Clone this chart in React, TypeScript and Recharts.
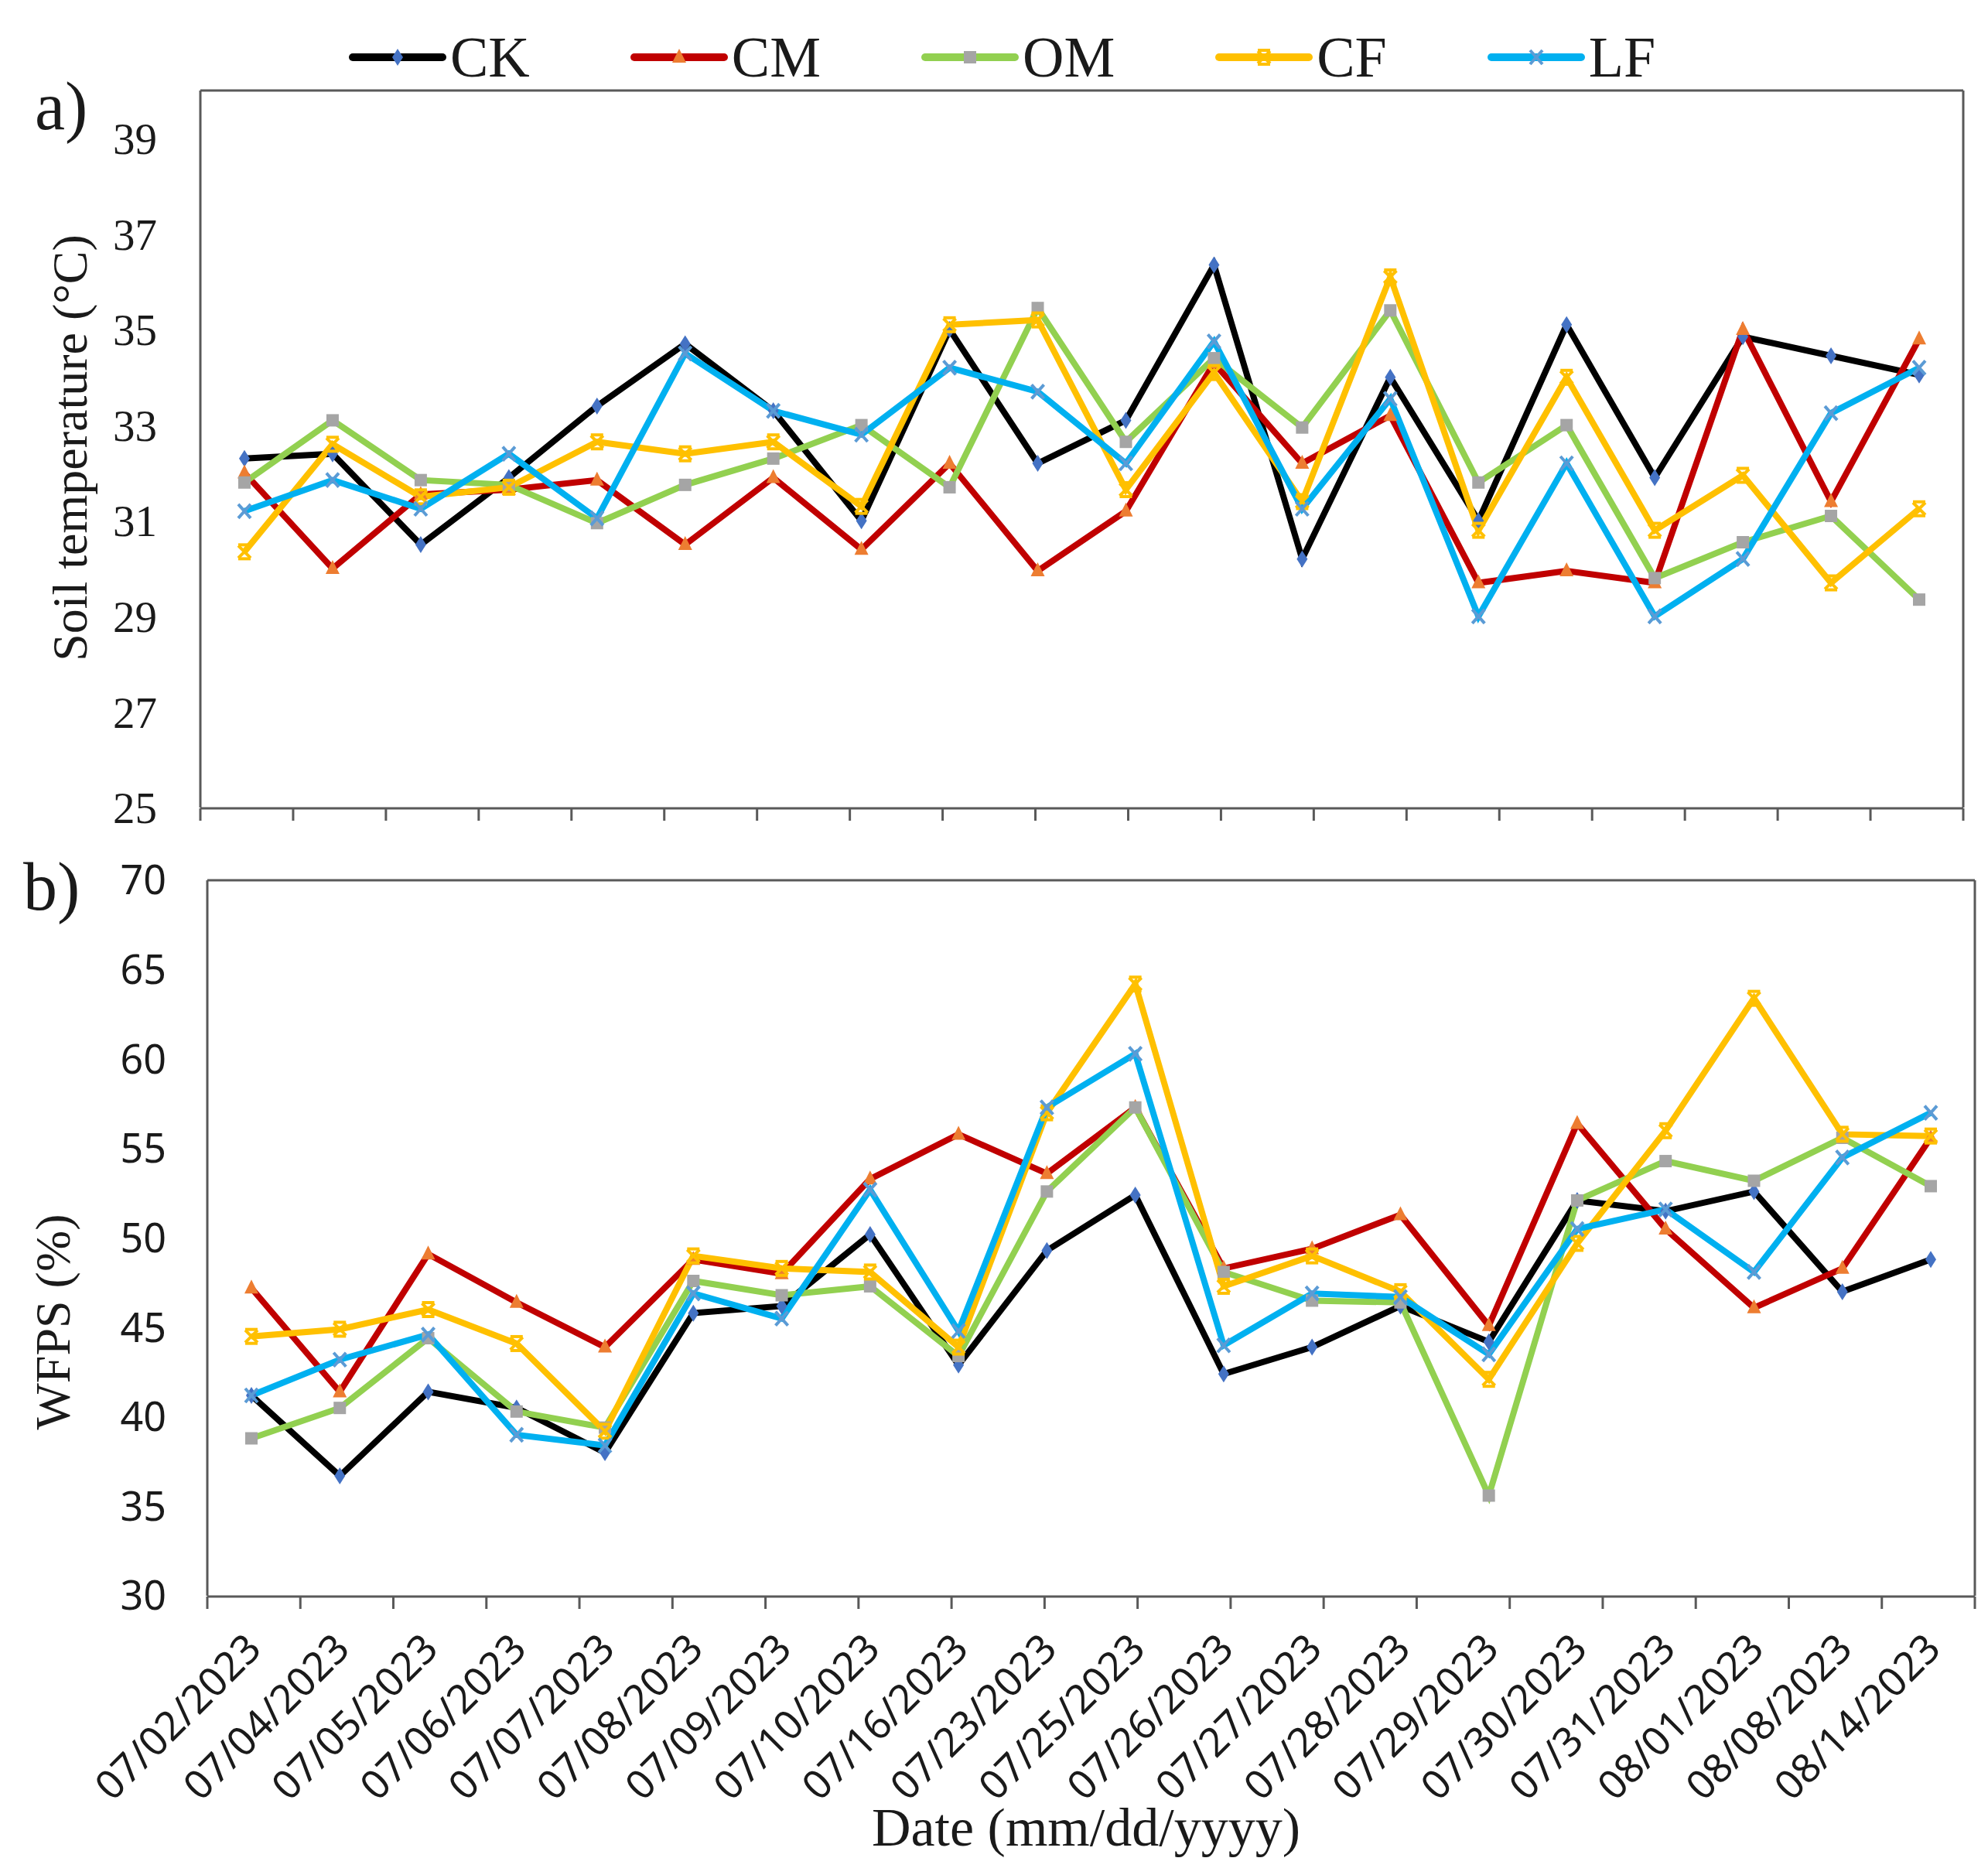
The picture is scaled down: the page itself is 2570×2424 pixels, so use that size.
import React from "react";
import { LineChart, Line, XAxis, YAxis } from "recharts";

// sampling dates (categories)
const dates = [
  "07/02/2023", "07/04/2023", "07/05/2023", "07/06/2023", "07/07/2023",
  "07/08/2023", "07/09/2023", "07/10/2023", "07/16/2023", "07/23/2023",
  "07/25/2023", "07/26/2023", "07/27/2023", "07/28/2023", "07/29/2023",
  "07/30/2023", "07/31/2023", "08/01/2023", "08/08/2023", "08/14/2023",
];

// a) soil temperature (°C)
const ckTemp = [32.3, 32.4, 30.5, 31.9, 33.4, 34.7, 33.3, 31.0, 35.0, 32.2, 33.1, 36.35, 30.2, 34.0, 31.0, 35.1, 31.9, 34.85, 34.45, 34.05];
const cmTemp = [32.0, 30.0, 31.55, 31.65, 31.85, 30.5, 31.9, 30.4, 32.2, 29.95, 31.2, 34.3, 32.2, 33.2, 29.7, 29.95, 29.7, 35.0, 31.4, 34.8];
const omTemp = [31.8, 33.1, 31.85, 31.75, 30.95, 31.75, 32.3, 33.0, 31.7, 35.45, 32.65, 34.4, 32.95, 35.4, 31.8, 33.0, 29.8, 30.55, 31.1, 29.35];
const cfTemp = [30.35, 32.6, 31.5, 31.7, 32.65, 32.4, 32.65, 31.3, 35.1, 35.2, 31.65, 34.1, 31.4, 36.1, 30.8, 34.0, 30.8, 31.95, 29.7, 31.25];
const lfTemp = [31.2, 31.85, 31.25, 32.4, 31.05, 34.5, 33.3, 32.8, 34.2, 33.7, 32.2, 34.75, 31.25, 33.55, 29.0, 32.2, 29.0, 30.2, 33.25, 34.2];

// b) WFPS (%)
const ckWfps = [41.2, 36.7, 41.4, 40.5, 38.0, 45.8, 46.2, 50.2, 42.9, 49.3, 52.4, 42.4, 43.9, 46.2, 44.2, 52.1, 51.5, 52.6, 47.0, 48.8];
const cmWfps = [47.2, 41.4, 49.1, 46.4, 43.9, 48.8, 48.0, 53.3, 55.8, 53.6, 57.3, 48.3, 49.4, 51.3, 45.1, 56.4, 50.5, 46.1, 48.3, 55.6];
const omWfps = [38.8, 40.5, 44.4, 40.3, 39.4, 47.6, 46.8, 47.3, 43.4, 52.6, 57.3, 48.1, 46.5, 46.4, 35.6, 52.1, 54.3, 53.2, 55.6, 52.9];
const cfWfps = [44.5, 44.9, 46.0, 44.1, 39.2, 49.0, 48.3, 48.1, 43.9, 57.0, 64.2, 47.3, 49.0, 47.0, 42.1, 49.7, 56.0, 63.4, 55.8, 55.7];
const lfWfps = [41.2, 43.2, 44.6, 39.0, 38.4, 46.9, 45.5, 52.7, 44.8, 57.3, 60.3, 44.0, 46.9, 46.7, 43.5, 50.5, 51.6, 48.1, 54.5, 57.0];

// axis ticks
const tempTicks = [25, 27, 29, 31, 33, 35, 37, 39];
const wfpsTicks = [30, 35, 40, 45, 50, 55, 60, 65, 70];
// tick marks sit between the categories, like Excel
const edgeTicks = [0, 1, 2, 3, 4, 5, 6, 7, 8, 9, 10, 11, 12, 13, 14, 15, 16, 17, 18, 19, 20];

const series = [
  { key: "CK", line: "#000000", marker: "#4472C4", shape: "diamond" },
  { key: "CM", line: "#C00000", marker: "#ED7D31", shape: "triangle" },
  { key: "OM", line: "#92D050", marker: "#A5A5A5", shape: "square" },
  { key: "CF", line: "#FFC000", marker: "#FFC000", shape: "star" },
  { key: "LF", line: "#00B0F0", marker: "#5B9BD5", shape: "cross" },
];

const tempRows = dates.map((date, i) => ({
  date, CK: ckTemp[i], CM: cmTemp[i], OM: omTemp[i], CF: cfTemp[i], LF: lfTemp[i],
}));
const wfpsRows = dates.map((date, i) => ({
  date, CK: ckWfps[i], CM: cmWfps[i], OM: omWfps[i], CF: cfWfps[i], LF: lfWfps[i],
}));

const serif = '"Liberation Serif", "Times New Roman", serif';
const sans = '"Noto Sans", "Open Sans", "DejaVu Sans", sans-serif';
const axisColor = "#595959";
const textColor = "#1a1a1a";
const frameLine = { stroke: axisColor, strokeWidth: 3 };

function Marker({ shape, color, cx, cy }: { shape: string; color: string; cx: number; cy: number }) {
  if (shape === "diamond") {
    return <polygon points={`${cx},${cy - 11} ${cx + 7},${cy} ${cx},${cy + 11} ${cx - 7},${cy}`} fill={color} />;
  }
  if (shape === "triangle") {
    return <polygon points={`${cx},${cy - 11} ${cx + 9},${cy + 7} ${cx - 9},${cy + 7}`} fill={color} />;
  }
  if (shape === "square") {
    return <rect x={cx - 8} y={cy - 8} width={16} height={16} fill={color} />;
  }
  if (shape === "star") {
    return (
      <g stroke={color} strokeWidth={4}>
        <line x1={cx - 8} y1={cy - 8} x2={cx + 8} y2={cy + 8} />
        <line x1={cx - 8} y1={cy + 8} x2={cx + 8} y2={cy - 8} />
        <line x1={cx - 8} y1={cy - 9} x2={cx + 8} y2={cy - 9} />
        <line x1={cx - 8} y1={cy + 9} x2={cx + 8} y2={cy + 9} />
      </g>
    );
  }
  return (
    <g stroke={color} strokeWidth={4}>
      <line x1={cx - 8} y1={cy - 9} x2={cx + 8} y2={cy + 9} />
      <line x1={cx - 8} y1={cy + 9} x2={cx + 8} y2={cy - 9} />
    </g>
  );
}

function makeDot(shape: string, color: string) {
  return (props: any) => {
    const { cx, cy, index } = props;
    if (cx == null || cy == null) return <g key={`${shape}-${index}`} />;
    return (
      <g key={`${shape}-${index}`}>
        <Marker shape={shape} color={color} cx={cx} cy={cy} />
      </g>
    );
  };
}

const blankTick = () => <g />;

function DateTick({ x, y, payload }: any) {
  const ty = y + 56;
  return (
    <text
      x={x}
      y={ty}
      dy={22}
      transform={`rotate(-45, ${x}, ${ty})`}
      textAnchor="end"
      fontFamily={sans}
      fontSize={52}
      fill={textColor}
    >
      {payload.value}
    </text>
  );
}

function seriesLines() {
  return series.map((s) => (
    <Line
      key={s.key}
      type="linear"
      dataKey={s.key}
      name={s.key}
      stroke={s.line}
      strokeWidth={8}
      dot={makeDot(s.shape, s.marker)}
      activeDot={false}
      isAnimationActive={false}
    />
  ));
}

// top and right sides of the plot frame
function frameAxes() {
  return [
    <XAxis
      key="frame-top"
      xAxisId="top"
      orientation="top"
      type="number"
      domain={[0, 1]}
      height={1}
      tick={false}
      tickLine={false}
      axisLine={frameLine}
    />,
    <YAxis
      key="frame-right"
      yAxisId="right"
      orientation="right"
      type="number"
      domain={[0, 1]}
      width={1}
      tick={false}
      tickLine={false}
      axisLine={frameLine}
    />,
  ];
}

function edgeAxis() {
  return (
    <XAxis
      xAxisId="edges"
      type="number"
      domain={[0, 20]}
      ticks={edgeTicks}
      interval={0}
      allowDataOverflow
      height={1}
      tick={blankTick}
      tickSize={16}
      tickLine={frameLine}
      axisLine={frameLine}
    />
  );
}

function Legend() {
  return (
    <div
      style={{
        position: "absolute",
        left: 451,
        top: 34,
        height: 80,
        display: "flex",
        alignItems: "center",
        gap: 130,
      }}
    >
      {series.map((s) => (
        <div key={s.key} style={{ display: "flex", alignItems: "center", gap: 5 }}>
          <svg width={126} height={30}>
            <line x1={5} y1={15} x2={121} y2={15} stroke={s.line} strokeWidth={10} strokeLinecap="round" />
            <Marker shape={s.shape} color={s.marker} cx={63} cy={15} />
          </svg>
          <span style={{ fontFamily: serif, fontSize: 74, lineHeight: "80px", color: textColor }}>{s.key}</span>
        </div>
      ))}
    </div>
  );
}

export default function App() {
  const halfBand = 57;
  return (
    <div style={{ position: "absolute", left: 0, top: 0, width: 2570, height: 2424, background: "#fff" }}>
      <div style={{ position: "absolute", left: 0, top: 0 }}>
        <LineChart width={2570} height={1100} data={tempRows} margin={{ top: 116, right: 31, left: 258, bottom: 55 }}>
          {edgeAxis()}
          <XAxis dataKey="date" hide height={1} padding={{ left: halfBand, right: halfBand }} />
          {frameAxes()}
          <YAxis
            width={1}
            domain={[25, 40]}
            ticks={tempTicks}
            interval={0}
            allowDataOverflow
            tickLine={false}
            tickSize={0}
            tickMargin={56}
            axisLine={frameLine}
            tick={{ fontFamily: serif, fontSize: 57, fill: textColor }}
          />
          {seriesLines()}
        </LineChart>
      </div>

      <div style={{ position: "absolute", left: 0, top: 1100 }}>
        <LineChart width={2570} height={1324} data={wfpsRows} margin={{ top: 37, right: 16, left: 267, bottom: 359 }}>
          {edgeAxis()}
          <XAxis
            dataKey="date"
            height={1}
            interval={0}
            padding={{ left: halfBand, right: halfBand }}
            axisLine={false}
            tickLine={false}
            tickSize={0}
            tickMargin={0}
            tick={<DateTick />}
          />
          {frameAxes()}
          <YAxis
            width={1}
            domain={[30, 70]}
            ticks={wfpsTicks}
            interval={0}
            allowDataOverflow
            tickLine={false}
            tickSize={0}
            tickMargin={53}
            axisLine={frameLine}
            tick={{ fontFamily: sans, fontSize: 52, fill: textColor }}
          />
          {seriesLines()}
        </LineChart>
      </div>

      <Legend />

      <svg width={2570} height={2424} style={{ position: "absolute", left: 0, top: 0, pointerEvents: "none" }}>
        <text x={45} y={167} fontFamily={serif} fontSize={88} fill={textColor}>a)</text>
        <text x={30} y={1176} fontFamily={serif} fontSize={88} fill={textColor}>b)</text>
        <text
          x={90}
          y={579}
          transform="rotate(-90, 90, 579)"
          textAnchor="middle"
          dominantBaseline="central"
          fontFamily={serif}
          fontSize={64}
          fill={textColor}
        >
          Soil temperature (°C)
        </text>
        <text
          x={68}
          y={1709}
          transform="rotate(-90, 68, 1709)"
          textAnchor="middle"
          dominantBaseline="central"
          fontFamily={serif}
          fontSize={64}
          fill={textColor}
        >
          WFPS (%)
        </text>
        <text x={1404} y={2386} textAnchor="middle" fontFamily={serif} fontSize={70} fill={textColor}>
          Date (mm/dd/yyyy)
        </text>
      </svg>
    </div>
  );
}
